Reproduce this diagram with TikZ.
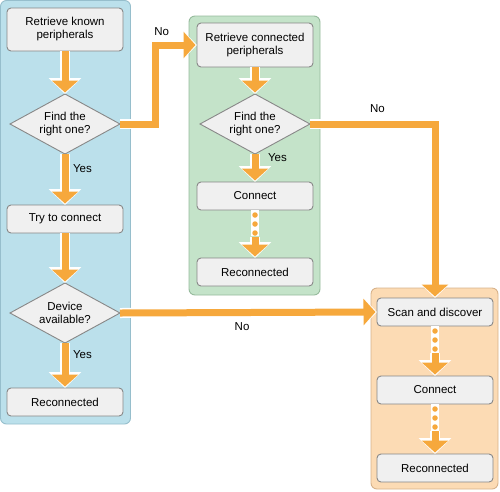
\documentclass[tikz,border=0pt]{standalone}
\usepackage{fontspec}
\setmainfont{Liberation Sans}
\usetikzlibrary{shapes,arrows.meta,positioning,calc}

\definecolor{bluefill}{RGB}{187,224,235}
\definecolor{blueline}{RGB}{150,190,204}
\definecolor{greenfill}{RGB}{196,227,201}
\definecolor{greenline}{RGB}{150,186,156}
\definecolor{orangefill}{RGB}{252,219,180}
\definecolor{orangeline}{RGB}{215,178,138}
\definecolor{boxfill}{RGB}{240,240,240}
\definecolor{boxline}{RGB}{135,135,135}
\definecolor{arrowc}{RGB}{246,168,60}

\begin{document}
\begin{tikzpicture}[x=1pt, y=-1pt, node distance=0cm, outer sep=0pt,
    font=\fontsize{11.5}{13}\selectfont,
    panel/.style={line width=0.9pt, rounded corners=6pt},
    box/.style={draw=boxline, fill=boxfill, line width=0.9pt, rounded corners=4pt, minimum width=116pt, minimum height=28pt, inner sep=1pt, align=center},
    decide/.style={draw=boxline, fill=boxfill, line width=0.9pt, diamond, aspect=1.8, minimum width=110pt, minimum height=60pt, inner sep=0pt, align=center},
    flow/.style={draw=arrowc, line width=7pt, line join=miter, -{Triangle[width=26pt,length=12pt]}, shorten >=1.5pt,
        preaction={draw=white, line width=10pt, -{Triangle[width=32pt,length=16pt]}, shorten >=0pt}},
    dots/.style={draw=arrowc, line width=5.5pt, line cap=round, dash pattern=on 0pt off 9pt, dash phase=4pt, shorten >=22pt,
        preaction={draw=white, line width=8pt}},
    lbl/.style={inner sep=0pt}]
    \useasboundingbox (0,0) rectangle (500,491);

    % panels
    \draw[panel, fill=bluefill, draw=blueline] (0.5,0.5) rectangle (130.5,424);
    \draw[panel, fill=greenfill, draw=greenline] (189,16) rectangle (320,295);
    \draw[panel, fill=orangefill, draw=orangeline] (371,288) rectangle (498,489);

    % known peripherals
    \node[box, minimum height=43pt] (known) at (65,29.5) {Retrieve known\\peripherals};
    \node[decide, below=43pt of known] (find1) {Find the\\right one?};
    \node[box, below=51pt of find1] (try) {Try to connect};
    \node[decide, below=50pt of try] (avail) {Device\\available?};
    \node[box, below=45pt of avail] (recon1) {Reconnected};

    % connected peripherals
    \node[box, minimum height=44pt] (retconn) at (255,45) {Retrieve connected\\peripherals};
    \node[decide, below=27pt of retconn] (find2) {Find the\\right one?};
    \node[box, below=28pt of find2] (conn2) {Connect};
    \node[box, below=48pt of conn2] (recon2) {Reconnected};

    % scan
    \node[box] (scan) at (435,312) {Scan and discover};
    \node[box, below=50pt of scan] (conn3) {Connect};
    \node[box, below=50pt of conn3] (recon3) {Reconnected};

    \draw[flow] (known) -- (find1);
    \draw[flow] (find1) -- node[lbl, right=8pt, pos=.28] {Yes} (try);
    \draw[flow] (try) -- (avail);
    \draw[flow] (avail) -- node[lbl, right=8pt, pos=.26] {Yes} (recon1);
    \draw[flow] (find1.east) -- ++(35,0) |- node[lbl, above=9pt, pos=.58] {No} (retconn.west);
    \draw[flow] (avail.east) -- node[lbl, below=10pt, pos=.475] {No} (scan.west);

    \draw[flow] (retconn) -- (find2);
    \draw[flow] (find2) -- node[lbl, right=13pt, pos=.13] {Yes} (conn2);
    \draw[flow] (find2.east) -| node[lbl, above=11pt, pos=.27] {No} (scan.north);
    \draw[dots] (conn2) -- (recon2);
    \draw[flow, shorten <=27pt] (conn2) -- (recon2);

    \draw[dots] (scan) -- (conn3);
    \draw[flow, shorten <=27pt] (scan) -- (conn3);
    \draw[dots] (conn3) -- (recon3);
    \draw[flow, shorten <=27pt] (conn3) -- (recon3);
\end{tikzpicture}
\end{document}
